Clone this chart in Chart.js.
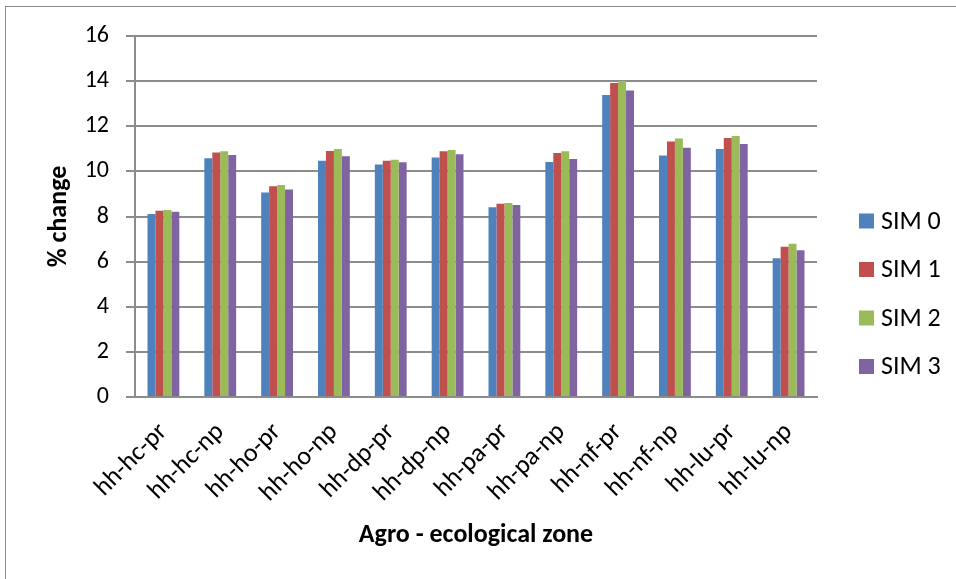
<!DOCTYPE html>
<html>
<head>
<meta charset="utf-8">
<script src="https://cdn.jsdelivr.net/npm/chart.js@4/dist/chart.umd.min.js"></script>
<style>
  html, body { margin: 0; padding: 0; background: #ffffff; }
  #wrap { width: 956px; height: 579px; }
</style>
</head>
<body>
<div id="wrap"><canvas id="c" width="956" height="579"></canvas></div>
<script>
// Agro-ecological zones (x categories)
const zones = ['hh-hc-pr', 'hh-hc-np', 'hh-ho-pr', 'hh-ho-np', 'hh-dp-pr', 'hh-dp-np',
               'hh-pa-pr', 'hh-pa-np', 'hh-nf-pr', 'hh-nf-np', 'hh-lu-pr', 'hh-lu-np'];

// % change per simulation
const sim0 = [8.11, 10.58, 9.06, 10.47, 10.31, 10.62, 8.41, 10.42, 13.39, 10.70, 10.99, 6.15];
const sim1 = [8.26, 10.84, 9.34, 10.90, 10.47, 10.89, 8.57, 10.81, 13.92, 11.32, 11.48, 6.66];
const sim2 = [8.29, 10.89, 9.40, 10.99, 10.52, 10.95, 8.60, 10.89, 14.01, 11.46, 11.57, 6.79];
const sim3 = [8.21, 10.73, 9.20, 10.67, 10.40, 10.76, 8.51, 10.55, 13.59, 11.05, 11.21, 6.50];

const seriesNames = ['SIM 0', 'SIM 1', 'SIM 2', 'SIM 3'];
const seriesColors = ['#4F81BD', '#C0504D', '#9BBB59', '#8064A2'];

const FONT = "Carlito, Lato, 'Noto Sans', sans-serif";
const GRID = '#8c8c8c';

// White page with the thin frame around the chart
const backdrop = {
  id: 'backdrop',
  beforeDraw(chart) {
    const ctx = chart.ctx;
    ctx.save();
    ctx.fillStyle = '#ffffff';
    ctx.fillRect(0, 0, chart.width, chart.height);
    ctx.strokeStyle = '#8a8a8a';
    ctx.lineWidth = 1;
    ctx.strokeRect(5.5, 6.5, chart.width + 20, chart.height + 20);
    ctx.restore();
  }
};

// Vertical legend to the right of the plot
const sideLegend = {
  id: 'sideLegend',
  afterDraw(chart) {
    const ctx = chart.ctx;
    const area = chart.chartArea;
    const x0 = area.right + 42;
    const y0 = 221;
    const step = 48.5;
    ctx.save();
    ctx.font = '26px ' + FONT;
    ctx.textBaseline = 'middle';
    ctx.textAlign = 'left';
    chart.data.datasets.forEach((ds, i) => {
      const cy = y0 + i * step;
      ctx.fillStyle = ds.backgroundColor;
      ctx.fillRect(x0, cy - 7.5, 15, 15);
      ctx.fillStyle = '#000000';
      ctx.fillText(ds.label, x0 + 22, cy + 1);
    });
    ctx.restore();
  }
};

const datasets = [sim0, sim1, sim2, sim3].map((vals, i) => ({
  label: seriesNames[i],
  data: vals,
  backgroundColor: seriesColors[i],
  borderWidth: 0,
  barPercentage: 1.0,
  categoryPercentage: 0.56
}));

new Chart(document.getElementById('c'), {
  type: 'bar',
  data: { labels: zones, datasets },
  options: {
    responsive: false,
    animation: false,
    devicePixelRatio: 1,
    layout: { padding: { left: 35, top: 36, right: 139, bottom: 20 } },
    plugins: {
      legend: { display: false },
      tooltip: { enabled: false }
    },
    scales: {
      x: {
        grid: { display: false, drawTicks: false },
        border: { display: true, color: GRID, width: 2 },
        ticks: {
          color: '#000000',
          font: { family: FONT, size: 26 },
          minRotation: 45,
          maxRotation: 45,
          padding: 20
        },
        title: {
          display: true,
          text: 'Agro - ecological zone',
          color: '#000000',
          font: { family: FONT, size: 26, weight: 'bold' },
          padding: { top: 0, bottom: 8 }
        },
        afterFit(scale) { scale.height = 162; }
      },
      y: {
        min: 0,
        max: 16,
        ticks: {
          stepSize: 2,
          color: '#000000',
          font: { family: FONT, size: 24 },
          padding: 17
        },
        grid: { color: GRID, lineWidth: 2, tickLength: 9, drawTicks: true },
        border: { display: true, color: GRID, width: 2 },
        title: {
          display: true,
          text: '% change',
          color: '#000000',
          font: { family: FONT, size: 26, weight: 'bold' },
          padding: { top: 9, bottom: 0 }
        },
        afterFit(scale) { scale.width = 100; }
      }
    }
  },
  plugins: [backdrop, sideLegend]
});
</script>
</body>
</html>
